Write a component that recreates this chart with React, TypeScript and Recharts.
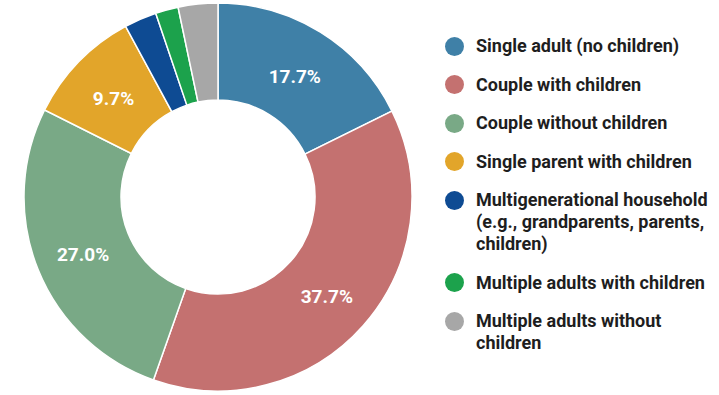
import React from 'react';
import { PieChart, Pie, Cell, Legend } from 'recharts';

const categories = [
  'Single adult (no children)',
  'Couple with children',
  'Couple without children',
  'Single parent with children',
  'Multigenerational household (e.g., grandparents, parents, children)',
  'Multiple adults with children',
  'Multiple adults without children',
];
const shares = [17.7, 37.7, 27.0, 9.7, 2.7, 1.9, 3.3];
const colors = ['#3f80a7', '#c47170', '#79a986', '#e2a52a', '#0e4b93', '#1ca24c', '#a7a7a7'];
const legendLines = [
  ['Single adult (no children)'],
  ['Couple with children'],
  ['Couple without children'],
  ['Single parent with children'],
  ['Multigenerational household', '(e.g., grandparents, parents,', 'children)'],
  ['Multiple adults with children'],
  ['Multiple adults without', 'children'],
];

const data = categories.map((name, i) => ({ name, value: shares[i] }));

const RAD = Math.PI / 180;

const renderLabel = (props: any) => {
  const { cx, cy, midAngle, innerRadius, outerRadius, value } = props;
  if (value < 5) return null;
  const r = (innerRadius + outerRadius) / 2;
  const x = cx + r * Math.cos(-midAngle * RAD);
  const y = cy + r * Math.sin(-midAngle * RAD);
  return (
    <text x={x} y={y + 3} fill="#fff" fontSize={19} fontWeight={700} fontFamily="Roboto, Arial, sans-serif" textAnchor="middle" dominantBaseline="central">
      {`${value.toFixed(1)}%`}
    </text>
  );
};

const CustomLegend: React.FC<any> = () => (
  <div style={{ fontFamily: 'Roboto, Arial, sans-serif', fontWeight: 700, fontSize: 18, color: '#1e1e1e', lineHeight: '22px' }}>
    {legendLines.map((lines, i) => (
      <div key={i} style={{ display: 'flex', alignItems: 'flex-start', marginBottom: 16.5 }}>
        <span style={{ width: 19, height: 19, borderRadius: 10, background: colors[i], marginRight: 12, marginTop: 1.5, flexShrink: 0 }} />
        <div>
          {lines.map((l, j) => (
            <div key={j}>{l}</div>
          ))}
        </div>
      </div>
    ))}
  </div>
);

export default function App() {
  return (
    <div style={{ position: 'absolute', left: 0, top: 0, width: 719, height: 395, background: '#fff' }}>
      <PieChart width={719} height={395} margin={{ top: 0, right: 0, bottom: 0, left: 0 }}>
        <Pie
          data={data}
          dataKey="value"
          cx={218}
          cy={197}
          innerRadius={97}
          outerRadius={194}
          startAngle={90}
          endAngle={-270}
          stroke="#fff"
          strokeWidth={1.5}
          label={renderLabel}
          labelLine={false}
          isAnimationActive={false}
        >
          {data.map((d, i) => (
            <Cell key={d.name} fill={colors[i]} />
          ))}
        </Pie>
        <Legend content={<CustomLegend />} wrapperStyle={{ position: 'absolute', left: 445, top: 35, width: 274 }} />
      </PieChart>
    </div>
  );
}
